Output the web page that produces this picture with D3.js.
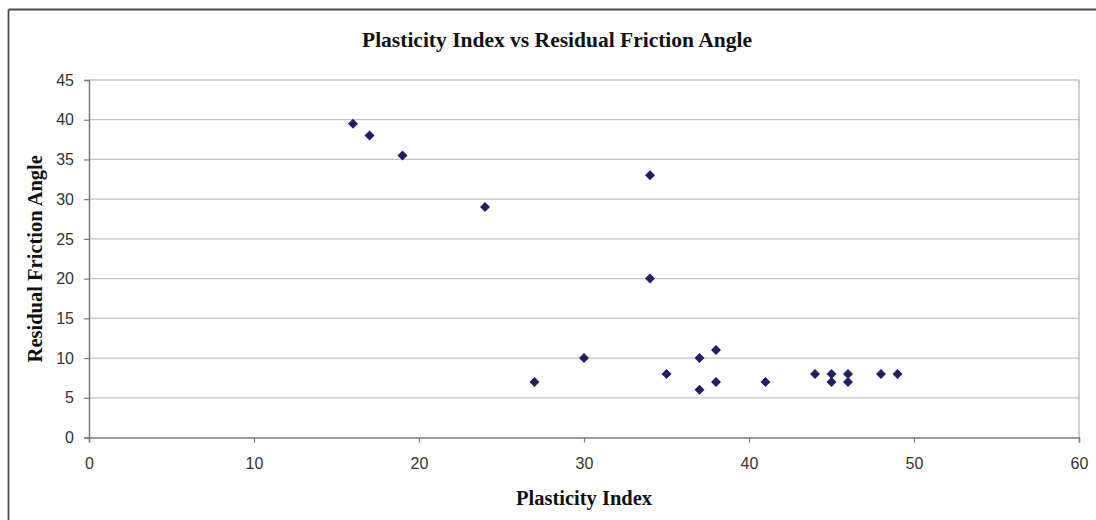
<!DOCTYPE html>
<html>
<head>
<meta charset="utf-8">
<script src="https://cdn.jsdelivr.net/npm/d3@7"></script>
<style>
html,body{margin:0;padding:0;background:#fff;}
svg{display:block;}
</style>
</head>
<body>
<svg id="chart" width="1096" height="520"></svg>
<script>
// Data
const plasticityIndex = [16, 17, 19, 24, 27, 30, 34, 34, 35, 37, 37, 38, 38, 41, 44, 45, 45, 46, 46, 48, 49];
const residualFrictionAngle = [39.5, 38, 35.5, 29, 7, 10, 33, 20, 8, 10, 6, 11, 7, 7, 8, 8, 7, 8, 7, 8, 8];
const xTicks = [0, 10, 20, 30, 40, 50, 60];
const yTicks = [0, 5, 10, 15, 20, 25, 30, 35, 40, 45];
const chartTitle = "Plasticity Index vs Residual Friction Angle";
const xTitle = "Plasticity Index";
const yTitle = "Residual Friction Angle";

const svg = d3.select("#chart");
const W = 1096, H = 520;
const m = {left: 89, right: 1079, top: 80, bottom: 437.5};

// outer frame (left and top lines)
svg.append("line").attr("x1", 8.5).attr("x2", W).attr("y1", 9.5).attr("y2", 9.5)
  .attr("stroke", "#4a4a4a").attr("stroke-width", 1.8);
svg.append("line").attr("x1", 8.5).attr("x2", 8.5).attr("y1", 9.5).attr("y2", H)
  .attr("stroke", "#4a4a4a").attr("stroke-width", 1.8);

const x = d3.scaleLinear().domain([0, 60]).range([m.left, m.right]);
const y = d3.scaleLinear().domain([0, 45]).range([m.bottom, m.top]);

// gridlines
svg.append("g").selectAll("line").data(yTicks.filter(d => d > 0)).join("line")
  .attr("x1", m.left).attr("x2", m.right)
  .attr("y1", d => y(d)).attr("y2", d => y(d))
  .attr("stroke", "#c4c4c4").attr("stroke-width", 1.3);

// plot border right
svg.append("line").attr("x1", m.right).attr("x2", m.right).attr("y1", m.top).attr("y2", m.bottom)
  .attr("stroke", "#b4b4b4").attr("stroke-width", 1.3);

// axes
const xAxis = svg.append("g").attr("transform", `translate(0,${m.bottom})`)
  .call(d3.axisBottom(x).tickValues(xTicks).tickSize(5).tickPadding(15));
const yAxis = svg.append("g").attr("transform", `translate(${m.left},0)`)
  .call(d3.axisLeft(y).tickValues(yTicks).tickSize(5).tickPadding(10));
[xAxis, yAxis].forEach(g => {
  g.attr("font-size", 16).attr("font-family", "Liberation Sans, Arial, sans-serif");
  g.select(".domain").attr("stroke", "#7a7a7a").attr("stroke-width", 1.5);
  g.selectAll(".tick line").attr("stroke", "#7a7a7a").attr("stroke-width", 1.2);
  g.selectAll(".tick text").attr("fill", "#333").attr("font-size", 16);
});

// points (square diamonds)
const sym = d3.symbol().type(d3.symbolSquare).size(50);
svg.append("g").selectAll("path").data(plasticityIndex.map((v, i) => [v, residualFrictionAngle[i]])).join("path")
  .attr("d", sym)
  .attr("transform", d => `translate(${x(d[0])},${y(d[1])}) rotate(45)`)
  .attr("fill", "#221e63");

// titles
svg.append("text").attr("x", 557).attr("y", 47).attr("text-anchor", "middle")
  .style("font-family", "Liberation Serif, Times New Roman, serif").style("font-weight", "bold").style("font-size", "21.5px")
  .attr("fill", "#111").text(chartTitle);
svg.append("text").attr("x", (m.left + m.right) / 2).attr("y", 505).attr("text-anchor", "middle")
  .style("font-family", "Liberation Serif, Times New Roman, serif").style("font-weight", "bold").style("font-size", "20.5px")
  .attr("fill", "#111").text(xTitle);
svg.append("text").attr("transform", `translate(42,${(m.top + m.bottom) / 2}) rotate(-90)`).attr("text-anchor", "middle")
  .style("font-family", "Liberation Serif, Times New Roman, serif").style("font-weight", "bold").style("font-size", "20.5px")
  .attr("fill", "#111").text(yTitle);
</script>
</body>
</html>
